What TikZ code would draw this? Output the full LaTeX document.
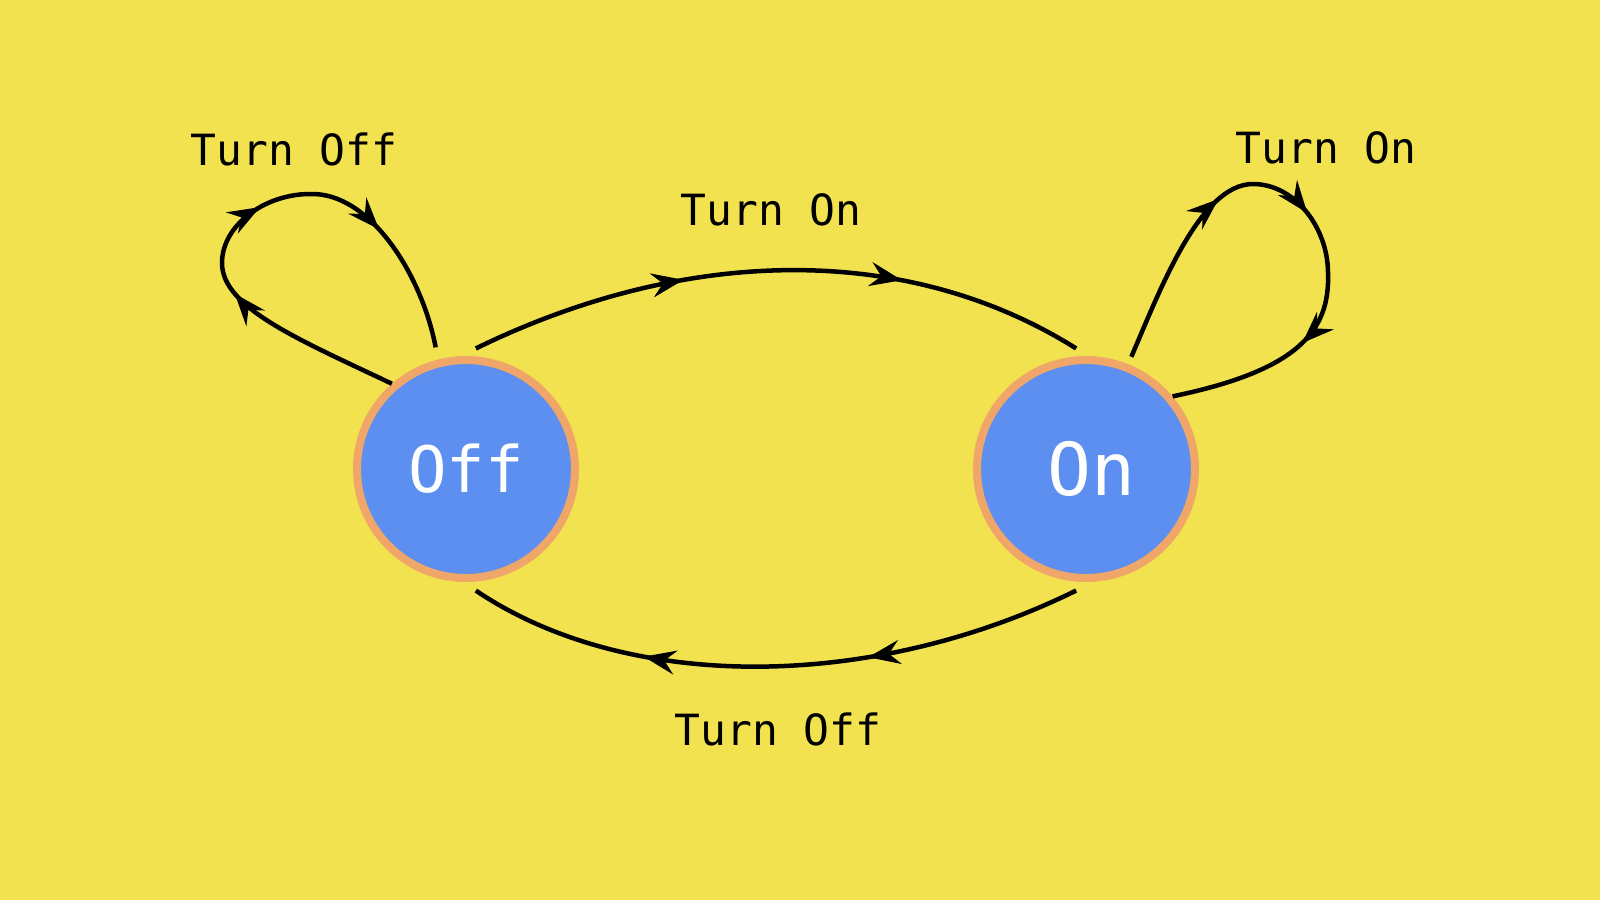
\documentclass[tikz,border=0pt]{standalone}
\usepackage{fontspec}
\setmonofont{DejaVu Sans Mono}
\usetikzlibrary{arrows.meta,decorations.markings}
\definecolor{bgyel}{RGB}{242,226,80}
\definecolor{stblue}{RGB}{92,143,240}
\definecolor{stborder}{RGB}{240,166,104}
\tikzset{
 statenode/.style={circle, minimum size=218pt, inner sep=0pt, fill=stblue, draw=stborder, line width=8pt, text=white},
 lbl/.style={anchor=base, font=\ttfamily\fontsize{43}{50}\selectfont, text=black},
 conn/.style={draw=black, line width=4.5pt, postaction={decorate}},
 arrowhd/.tip={Stealth[length=32pt,width=24pt,inset=11pt]},
 twomk/.style 2 args={decoration={markings, mark=at position #1 with {\arrow{arrowhd}}, mark=at position #2 with {\arrow{arrowhd}}}},
 threemk/.style n args={3}{decoration={markings, mark=at position #1 with {\arrow{arrowhd}}, mark=at position #2 with {\arrow{arrowhd}}, mark=at position #3 with {\arrow{arrowhd}}}},
}
\begin{document}
\begin{tikzpicture}[x=1pt,y=-1pt]
\fill[bgyel] (0,0) rectangle (1600,900);
\useasboundingbox (0,0) rectangle (1600,900);
\node[statenode, font=\ttfamily\fontsize{64}{70}\selectfont] (off) at (466,469) {Off};
\node[statenode, font=\ttfamily\fontsize{73}{80}\selectfont] (on) at (1086,469) {\kern10pt On};
\node[lbl] (lTL) at (294,165) {Turn Off};
\node[lbl] (lTR) at (1326,163) {Turn On};
\node[lbl] (lTop) at (771,225) {Turn On};
\node[lbl] (lBot) at (778,745) {Turn Off};
\draw[conn, twomk={0.35}{0.70}] ([yshift=8pt]off.85) .. controls (690,244) and (910,244) .. ([yshift=8pt]on.95);
\draw[conn, twomk={0.35}{0.71}] ([yshift=-9pt]on.265) .. controls (870,692) and (626,692) .. ([yshift=-9pt]off.275);
\draw[conn, threemk={0.33}{0.52}{0.76}] (off.131) .. controls (300,340) and (222,308) .. (222,263) .. controls (222,225) and (265,194) .. (310,194) .. controls (370,192) and (422,275) .. ([shift={(-3pt,12pt)}]off.104);
\draw[conn, threemk={0.32}{0.50}{0.75}] ([shift={(68:8pt)}]on.68) .. controls (1160,290) and (1200,184) .. (1253,184) .. controls (1295,184) and (1328,228) .. (1328,273) .. controls (1330,330) and (1300,370) .. (on.40);
\end{tikzpicture}
\end{document}
